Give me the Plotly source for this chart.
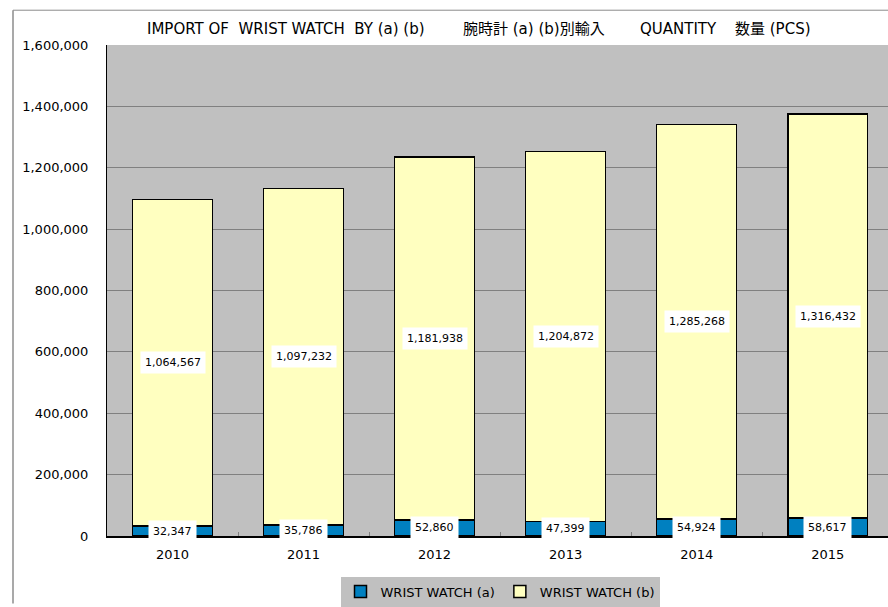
import plotly.graph_objects as go

years = ["2010", "2011", "2012", "2013", "2014", "2015"]
watch_a = [32347, 35786, 52860, 47399, 54924, 58617]
watch_b = [1064567, 1097232, 1181938, 1204872, 1285268, 1316432]
y_ticks = [0, 200000, 400000, 600000, 800000, 1000000, 1200000, 1400000, 1600000]
title_parts = [
    "IMPORT OF\u00a0\u00a0WRIST WATCH\u00a0\u00a0BY (a) (b)",
    "腕時計 (a) (b)別輸入",
    "QUANTITY",
    "数量 (PCS)",
]
title_center_px = [286, 534, 678, 773]

FONT = "DejaVu Sans, Noto Sans CJK JP, sans-serif"
W, H = 888, 607
L, R, T, B = 107, 0, 45, 68
pw, ph = W - L - R, H - T - B


def px_x(p):
    return (p - L) / pw


def px_y(p):
    return (H - B - p) / ph


fig = go.Figure()
fig.add_trace(go.Bar(
    x=years, y=watch_a, name="WRIST WATCH (a)",
    marker=dict(color="#0080C0", line=dict(color="#000000", width=1.5)),
    width=0.61,
))
fig.add_trace(go.Bar(
    x=years, y=watch_b, name="WRIST WATCH (b)",
    marker=dict(color="#FFFFC0", line=dict(color="#000000", width=1.5)),
    width=0.61,
))

annotations = []
for i, (a, b) in enumerate(zip(watch_a, watch_b)):
    annotations.append(dict(x=i, y=a / 2, text=f"{a:,}", showarrow=False,
                            bgcolor="#FFFFFF", borderpad=4,
                            font=dict(size=11, color="#000000")))
    annotations.append(dict(x=i, y=a + b / 2, text=f"{b:,}", showarrow=False,
                            bgcolor="#FFFFFF", borderpad=4,
                            font=dict(size=11, color="#000000")))

for part, cx in zip(title_parts, title_center_px):
    annotations.append(dict(xref="paper", yref="paper", x=px_x(cx), y=px_y(29),
                            text=part, showarrow=False, xanchor="center", yanchor="middle",
                            font=dict(size=15, color="#000000")))

# outer chart frame; only its top and left edges fall inside the window
shapes = [
    dict(type="line", xref="paper", yref="paper",
         x0=px_x(13), x1=1.0, y0=px_y(10), y1=px_y(10),
         line=dict(color="#8c8c8c", width=1)),
    dict(type="line", xref="paper", yref="paper",
         x0=px_x(13), x1=px_x(13), y0=px_y(10), y1=px_y(607),
         line=dict(color="#8c8c8c", width=1.5)),
]

fig.update_layout(
    width=W, height=H,
    margin=dict(l=L, r=R, t=T, b=B),
    barmode="stack",
    paper_bgcolor="#FFFFFF",
    plot_bgcolor="#C0C0C0",
    font=dict(family=FONT, size=13, color="#000000"),
    annotations=annotations,
    shapes=shapes,
    xaxis=dict(
        type="category", range=[-0.5, 5.46],
        showline=True, linecolor="#000000", linewidth=1.5,
        ticks="inside", tickson="boundaries", ticklen=4, tickcolor="#808080",
        showgrid=False, tickfont=dict(size=13), ticklabelstandoff=6,
    ),
    yaxis=dict(
        range=[0, 1600000], tickvals=y_ticks, tickformat=",d",
        showline=True, linecolor="#000000", linewidth=1, mirror=True,
        gridcolor="#808080", gridwidth=1, zeroline=False,
        ticks="", ticklabelstandoff=15, tickfont=dict(size=13),
    ),
    legend=dict(
        orientation="h", x=px_x(500), y=px_y(595), xanchor="center", yanchor="middle",
        bgcolor="#C0C0C0", font=dict(size=13), traceorder="normal",
        itemwidth=30, tracegroupgap=0,
    ),
    showlegend=True,
)

fig.write_html("out.html", config={"displayModeBar": False},
               post_script="document.body.style.margin = '0';")
